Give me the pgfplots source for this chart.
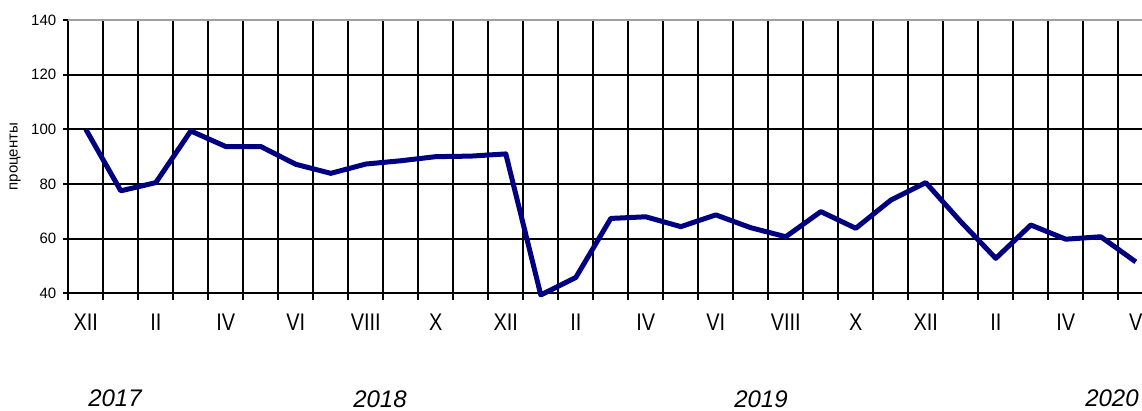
\documentclass[border=0pt]{standalone}
\usepackage{fontspec}
\setmainfont{Liberation Sans}
\newfontfamily\narrowfont[FakeStretch=0.83]{Liberation Sans}
\usepackage{pgfplots}
\pgfplotsset{compat=1.18}
\definecolor{linenavy}{RGB}{0,0,128}
\definecolor{framegray}{RGB}{160,160,160}

\begin{document}
\begin{tikzpicture}
\path[use as bounding box] (-34.15pt,-58.35pt) rectangle (536.85pt,146.67pt);
\clip (-34.15pt,-58.35pt) rectangle (536.85pt,146.67pt);
\begin{axis}[
  at={(0,0)}, anchor=south west,
  scale only axis,
  width=542.5pt, height=136.67pt,
  xmin=-0.5, xmax=30.5,
  ymin=40, ymax=140,
  clip=false,
  axis x line*=bottom, axis y line*=left,
  axis line style={black, line width=1pt},
  tick align=outside,
  xtick={0,2,...,30},
  xticklabels={XII,II,IV,VI,VIII,X,XII,II,IV,VI,VIII,X,XII,II,IV,V},
  minor xtick={-0.5,0.5,...,30.5},
  ytick={40,60,...,140},
  major x tick style={draw=none},
  minor x tick style={black, line width=1pt},
  major y tick style={black, line width=1pt},
  minor tick length=3.3pt,
  major tick length=2.5pt,
  ymajorgrids, xminorgrids,
  major grid style={black, line width=1pt},
  minor grid style={black, line width=1pt},
  /pgf/number format/assume math mode=true,
  yticklabel style={font=\fontsize{7.5}{9}\selectfont},
  xticklabel style={font=\narrowfont\fontsize{12}{14}\selectfont, yshift=-4.3pt},
  ylabel={проценты},
  ylabel style={font=\fontsize{7.5}{9}\selectfont, at={(axis description cs:-0.0491,0.5)}, anchor=center},
]
\addplot[linenavy, line width=2.5pt, line join=round, mark=none] coordinates {
  (0,100) (1,77.5) (2,80.5) (3,99.4) (4,93.7) (5,93.7) (6,87.2) (7,83.9)
  (8,87.3) (9,88.5) (10,90.0) (11,90.2) (12,91.0) (13,39.4) (14,45.8)
  (15,67.4) (16,68.0) (17,64.4) (18,68.7) (19,64.0) (20,60.7) (21,69.9)
  (22,63.8) (23,74.1) (24,80.5) (25,66.2) (26,52.8) (27,65.0) (28,59.8)
  (29,60.7) (30,51.5)
};
\draw[framegray, line width=1pt] (axis description cs:0,1) -- (axis description cs:1,1);
\end{axis}
\tikzset{year/.style={font=\fontsize{12}{14}\selectfont\itshape, inner sep=0pt}}
\node[year] at (23.35pt,-52.4pt) {2017};
\node[year] at (155.85pt,-53.2pt) {2018};
\node[year] at (346.35pt,-52.8pt) {2019};
\node[year] at (521.85pt,-52.4pt) {2020};
\end{tikzpicture}
\end{document}
